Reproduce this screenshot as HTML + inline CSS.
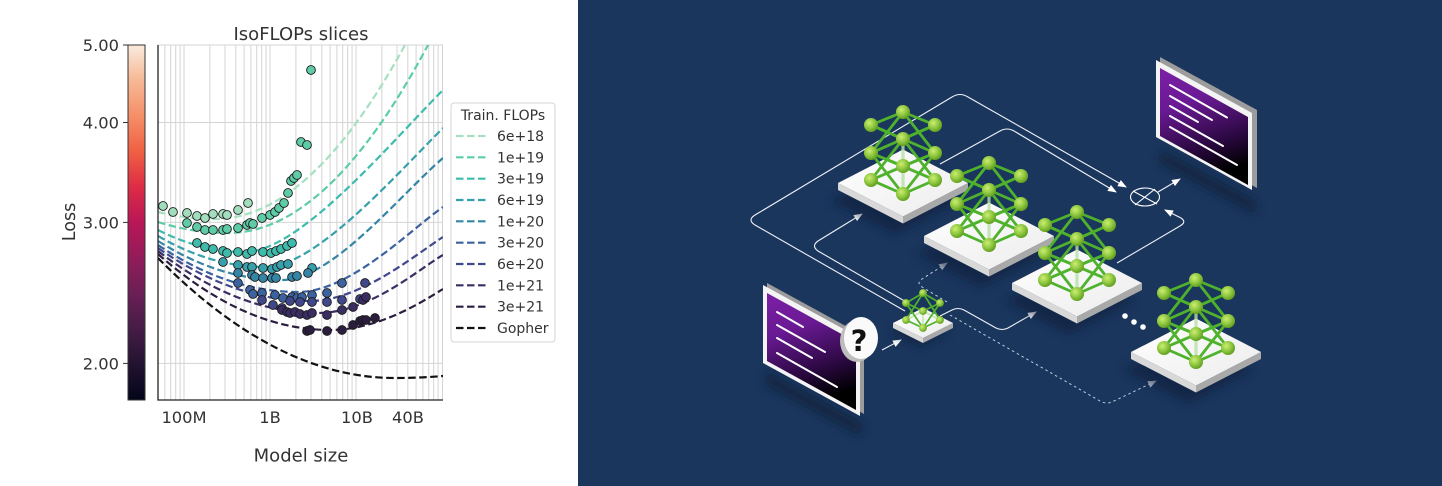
<!DOCTYPE html>
<html><head><meta charset="utf-8"><style>
html,body{margin:0;padding:0;background:#fff;}
svg{display:block;}
</style></head><body>
<svg width="1442" height="486" viewBox="0 0 1442 486" xmlns="http://www.w3.org/2000/svg">
<defs>
  <linearGradient id="rocket" x1="0" y1="1" x2="0" y2="0">
    <stop offset="0" stop-color="#03051a"/><stop offset="0.1" stop-color="#221331"/>
    <stop offset="0.2" stop-color="#451c47"/><stop offset="0.3" stop-color="#6a1f56"/>
    <stop offset="0.4" stop-color="#921c5b"/><stop offset="0.5" stop-color="#b91657"/>
    <stop offset="0.6" stop-color="#dd2c45"/><stop offset="0.7" stop-color="#f06043"/>
    <stop offset="0.8" stop-color="#f58f68"/><stop offset="0.9" stop-color="#f6b894"/>
    <stop offset="1" stop-color="#faebdd"/>
  </linearGradient>
  <clipPath id="pc"><rect x="158" y="45" width="285" height="355"/></clipPath>
  <marker id="ar" markerWidth="9" markerHeight="8" refX="8" refY="3.5" orient="auto" markerUnits="userSpaceOnUse"><path d="M0,0 L9,3.5 L0,7 Z" fill="#fff"/></marker>
  <marker id="ard" markerWidth="9" markerHeight="8" refX="8" refY="3.5" orient="auto" markerUnits="userSpaceOnUse"><path d="M0,0 L9,3.5 L0,7 Z" fill="#c3cddb"/></marker>
  <radialGradient id="ng" cx="0.38" cy="0.35" r="0.7">
    <stop offset="0" stop-color="#cdee72"/><stop offset="0.55" stop-color="#8dc63f"/><stop offset="1" stop-color="#5c9a1c"/>
  </radialGradient>
  <linearGradient id="topg" x1="0" y1="0" x2="1" y2="1"><stop offset="0" stop-color="#ffffff"/><stop offset="1" stop-color="#ececec"/></linearGradient>
  <linearGradient id="scr" x1="0" y1="0" x2="0.25" y2="1">
    <stop offset="0" stop-color="#7c1fa6"/><stop offset="0.35" stop-color="#6a1a94"/><stop offset="0.75" stop-color="#2a0840"/><stop offset="1" stop-color="#000"/>
  </linearGradient>
  <filter id="bl" x="-30%" y="-30%" width="160%" height="160%"><feGaussianBlur stdDeviation="5"/></filter>
  <g id="plat">
    <polygon points="-73,18 -8,-15.5 57,18 -8,51.5" fill="#0c1f3b" opacity="0.6" filter="url(#bl)"/>
    <polygon points="-65,0 0,33.5 0,40.5 -65,7" fill="#d8d8d8"/>
    <polygon points="0,33.5 65,0 65,7 0,40.5" fill="#a9a9a9"/>
    <polygon points="-65,0 0,-33.5 65,0 0,33.5" fill="url(#topg)"/>
  </g>
  <g id="platS">
    <polygon points="-34,9 -4,-6 26,9 -4,24" fill="#0c1f3b" opacity="0.6" filter="url(#bl)"/>
    <polygon points="-30,0 0,15 0,20 -30,5" fill="#d8d8d8"/>
    <polygon points="0,15 30,0 30,5 0,20" fill="#a9a9a9"/>
    <polygon points="-30,0 0,-15 30,0 0,15" fill="url(#topg)"/>
  </g>
  <g id="net">
    <g stroke="#b6e2a3" stroke-width="3.2" opacity="0.8" stroke-linecap="round">
      <line x1="0" y1="13" x2="-32" y2="27"/><line x1="0" y1="13" x2="32" y2="27"/>
      <line x1="0" y1="13" x2="0" y2="41"/><line x1="0" y1="-14" x2="0" y2="13"/>
    </g>
    <g stroke="#4fb22c" stroke-width="2.8" stroke-linecap="round">
      <line x1="0" y1="-41" x2="-32" y2="-28"/><line x1="0" y1="-41" x2="32" y2="-28"/>
      <line x1="-32" y1="-28" x2="0" y2="-14"/><line x1="32" y1="-28" x2="0" y2="-14"/>
      <line x1="0" y1="-41" x2="-32" y2="0"/><line x1="0" y1="-41" x2="32" y2="0"/>
      <line x1="-32" y1="-28" x2="32" y2="0"/><line x1="32" y1="-28" x2="-32" y2="0"/>
      <line x1="0" y1="-14" x2="-32" y2="27"/><line x1="0" y1="-14" x2="32" y2="27"/>
      <line x1="-32" y1="0" x2="0" y2="13"/><line x1="32" y1="0" x2="0" y2="13"/>
      <line x1="-32" y1="0" x2="0" y2="41"/><line x1="32" y1="0" x2="0" y2="41"/>
      <line x1="-32" y1="0" x2="32" y2="27"/><line x1="32" y1="0" x2="-32" y2="27"/>
      <line x1="-32" y1="27" x2="0" y2="41"/><line x1="32" y1="27" x2="0" y2="41"/>
    </g>
    <g fill="url(#ng)">
      <circle cx="0" cy="-41" r="7"/><circle cx="-32" cy="-28" r="7"/><circle cx="32" cy="-28" r="7"/>
      <circle cx="0" cy="-14" r="7"/><circle cx="-32" cy="0" r="7"/><circle cx="32" cy="0" r="7"/>
      <circle cx="0" cy="13" r="7"/><circle cx="-32" cy="27" r="7"/><circle cx="32" cy="27" r="7"/>
      <circle cx="0" cy="41" r="7"/>
    </g>
  </g>
  <g id="netS">
    <g stroke="#b6e2a3" stroke-width="1.6" opacity="0.8">
      <line x1="0" y1="0" x2="-17" y2="9"/><line x1="0" y1="0" x2="17" y2="9"/><line x1="0" y1="0" x2="0" y2="17"/>
    </g>
    <g stroke="#4fb22c" stroke-width="1.7">
      <line x1="0" y1="-18" x2="-17" y2="-8"/><line x1="0" y1="-18" x2="17" y2="-8"/>
      <line x1="-17" y1="-8" x2="0" y2="0"/><line x1="17" y1="-8" x2="0" y2="0"/>
      <line x1="0" y1="-18" x2="-17" y2="9"/><line x1="0" y1="-18" x2="17" y2="9"/>
      <line x1="-17" y1="-8" x2="0" y2="17"/><line x1="17" y1="-8" x2="0" y2="17"/>
      <line x1="-17" y1="9" x2="0" y2="17"/><line x1="17" y1="9" x2="0" y2="17"/>
    </g>
    <g fill="url(#ng)">
      <circle cx="0" cy="-18" r="3.9"/><circle cx="-17" cy="-8" r="3.9"/><circle cx="17" cy="-8" r="3.9"/>
      <circle cx="0" cy="0" r="3.9"/><circle cx="-17" cy="9" r="3.9"/><circle cx="17" cy="9" r="3.9"/>
      <circle cx="0" cy="17" r="3.9"/>
    </g>
  </g>
</defs>

<!-- LEFT PANEL -->
<rect x="0" y="0" width="578" height="486" fill="#fff"/>
<g stroke="#d4d4d4" stroke-width="1">
  <line x1="164.9" y1="45" x2="164.9" y2="400"/><line x1="170.7" y1="45" x2="170.7" y2="400"/>
  <line x1="175.7" y1="45" x2="175.7" y2="400"/><line x1="180.1" y1="45" x2="180.1" y2="400"/>
  <line x1="184" y1="45" x2="184" y2="400"/><line x1="209.9" y1="45" x2="209.9" y2="400"/>
  <line x1="225" y1="45" x2="225" y2="400"/><line x1="235.8" y1="45" x2="235.8" y2="400"/>
  <line x1="244.1" y1="45" x2="244.1" y2="400"/><line x1="250.9" y1="45" x2="250.9" y2="400"/>
  <line x1="256.7" y1="45" x2="256.7" y2="400"/><line x1="261.7" y1="45" x2="261.7" y2="400"/>
  <line x1="266.1" y1="45" x2="266.1" y2="400"/><line x1="270" y1="45" x2="270" y2="400"/>
  <line x1="295.9" y1="45" x2="295.9" y2="400"/><line x1="311" y1="45" x2="311" y2="400"/>
  <line x1="321.8" y1="45" x2="321.8" y2="400"/><line x1="330.1" y1="45" x2="330.1" y2="400"/>
  <line x1="336.9" y1="45" x2="336.9" y2="400"/><line x1="342.7" y1="45" x2="342.7" y2="400"/>
  <line x1="347.7" y1="45" x2="347.7" y2="400"/><line x1="352.1" y1="45" x2="352.1" y2="400"/>
  <line x1="356" y1="45" x2="356" y2="400"/><line x1="381.9" y1="45" x2="381.9" y2="400"/>
  <line x1="397" y1="45" x2="397" y2="400"/><line x1="407.8" y1="45" x2="407.8" y2="400"/>
  <line x1="416.1" y1="45" x2="416.1" y2="400"/><line x1="422.9" y1="45" x2="422.9" y2="400"/>
  <line x1="428.7" y1="45" x2="428.7" y2="400"/><line x1="433.7" y1="45" x2="433.7" y2="400"/>
  <line x1="438.1" y1="45" x2="438.1" y2="400"/><line x1="442.5" y1="45" x2="442.5" y2="400"/>
  <line x1="158" y1="45" x2="443" y2="45"/><line x1="158" y1="122.5" x2="443" y2="122.5"/>
  <line x1="158" y1="222.4" x2="443" y2="222.4"/><line x1="158" y1="363.4" x2="443" y2="363.4"/>
</g>
<g clip-path="url(#pc)" fill="none" stroke-width="2.2" stroke-dasharray="7.5 3.5">
  <path d="M158,212 Q186.5,219 215,219 Q310,219 405,45 L410,38" stroke="#a6e0c0"/>
  <path d="M158,222 Q193,233 228,233 Q328,233 428,45 L432,38" stroke="#5ccda7"/>
  <path d="M158,230 Q201.5,252 245,252 C300,252 393,140 443,90" stroke="#3dbcab"/>
  <path d="M158,236 Q211.5,267 265,267 C315,267 393,178 443,128" stroke="#37a1ab"/>
  <path d="M158,241 Q220,280 282,280 C332,280 400,195 443,158" stroke="#3585a6"/>
  <path d="M158,245 Q228,292 298,292 C350,292 410,230 443,207" stroke="#3c61a0"/>
  <path d="M158,248 Q234,301 310,301 C360,301 415,255 443,237" stroke="#42488c"/>
  <path d="M158,251 Q238,313 318,313 C370,313 420,268 443,255" stroke="#3b2d62"/>
  <path d="M158,254 Q244,330 330,330 C380,330 425,300 443,289" stroke="#2b1d3f"/>
  <path d="M158,258 Q276.5,378 395,378 Q419,378 443,376" stroke="#111"/>
</g>
<g stroke="#1a1a1a" stroke-width="0.9">
  <g fill="#a2debd">
    <circle cx="163" cy="206" r="4.4"/><circle cx="173" cy="212" r="4.4"/><circle cx="187" cy="213" r="4.4"/><circle cx="197" cy="216" r="4.4"/><circle cx="205" cy="218" r="4.4"/><circle cx="213" cy="214" r="4.4"/><circle cx="223" cy="214" r="4.4"/><circle cx="227" cy="215" r="4.4"/><circle cx="238" cy="210" r="4.4"/><circle cx="248" cy="203" r="4.4"/>
  </g>
  <g fill="#5ecca6">
    <circle cx="187" cy="223" r="4.4"/><circle cx="197" cy="227" r="4.4"/><circle cx="205" cy="230" r="4.4"/><circle cx="213" cy="230" r="4.4"/><circle cx="223" cy="230" r="4.4"/><circle cx="227" cy="229" r="4.4"/><circle cx="238" cy="228" r="4.4"/><circle cx="247" cy="225" r="4.4"/><circle cx="250" cy="223" r="4.4"/><circle cx="253" cy="224" r="4.4"/><circle cx="262" cy="218" r="4.4"/><circle cx="270" cy="215" r="4.4"/><circle cx="275" cy="212" r="4.4"/><circle cx="279" cy="208" r="4.4"/><circle cx="284" cy="203" r="4.4"/><circle cx="288" cy="193" r="4.4"/><circle cx="291" cy="181" r="4.4"/><circle cx="294" cy="178" r="4.4"/><circle cx="297" cy="175" r="4.4"/><circle cx="301" cy="142" r="4.4"/><circle cx="307" cy="145" r="4.4"/><circle cx="311" cy="70" r="4.4"/>
  </g>
  <g fill="#3fbbab">
    <circle cx="197" cy="243" r="4.4"/><circle cx="205" cy="247" r="4.4"/><circle cx="213" cy="249" r="4.4"/><circle cx="223" cy="251" r="4.4"/><circle cx="227" cy="253" r="4.4"/><circle cx="238" cy="252" r="4.4"/><circle cx="247" cy="254" r="4.4"/><circle cx="252" cy="251" r="4.4"/><circle cx="263" cy="252" r="4.4"/><circle cx="271" cy="253" r="4.4"/><circle cx="276" cy="251" r="4.4"/><circle cx="281" cy="249" r="4.4"/><circle cx="287" cy="246" r="4.4"/><circle cx="292" cy="243" r="4.4"/>
  </g>
  <g fill="#38a0aa">
    <circle cx="223" cy="262" r="4.4"/><circle cx="238" cy="265" r="4.4"/><circle cx="247" cy="267" r="4.4"/><circle cx="252" cy="267" r="4.4"/><circle cx="263" cy="268" r="4.4"/><circle cx="272" cy="269" r="4.4"/><circle cx="277" cy="267" r="4.4"/><circle cx="281" cy="265" r="4.4"/><circle cx="288" cy="264" r="4.4"/><circle cx="312" cy="268" r="4.4"/>
  </g>
  <g fill="#3585a6">
    <circle cx="238" cy="273" r="4.4"/><circle cx="252" cy="275" r="4.4"/><circle cx="255" cy="277" r="4.4"/><circle cx="263" cy="278" r="4.4"/><circle cx="272" cy="278" r="4.4"/><circle cx="276" cy="278" r="4.4"/><circle cx="292" cy="277" r="4.4"/><circle cx="297" cy="276" r="4.4"/><circle cx="308" cy="273" r="4.4"/>
  </g>
  <g fill="#3c62a0">
    <circle cx="238" cy="283" r="4.4"/><circle cx="250" cy="290" r="4.4"/><circle cx="253" cy="294" r="4.4"/><circle cx="262" cy="293" r="4.4"/><circle cx="275" cy="295" r="4.4"/><circle cx="283" cy="298" r="4.4"/><circle cx="292" cy="297" r="4.4"/><circle cx="297" cy="298" r="4.4"/><circle cx="302" cy="297" r="4.4"/><circle cx="312" cy="295" r="4.4"/><circle cx="327" cy="293" r="4.4"/><circle cx="342" cy="283" r="4.4"/>
  </g>
  <g fill="#41478b">
    <circle cx="262" cy="300" r="4.4"/><circle cx="273" cy="305" r="4.4"/><circle cx="282" cy="308" r="4.4"/><circle cx="290" cy="301" r="4.4"/><circle cx="300" cy="302" r="4.4"/><circle cx="312" cy="302" r="4.4"/><circle cx="327" cy="302" r="4.4"/><circle cx="342" cy="300" r="4.4"/><circle cx="360" cy="299" r="4.4"/><circle cx="365" cy="283" r="4.4"/>
  </g>
  <g fill="#3a2d62">
    <circle cx="282" cy="310" r="4.4"/><circle cx="287" cy="312" r="4.4"/><circle cx="290" cy="313" r="4.4"/><circle cx="295" cy="312" r="4.4"/><circle cx="300" cy="314" r="4.4"/><circle cx="307" cy="315" r="4.4"/><circle cx="312" cy="313" r="4.4"/><circle cx="327" cy="315" r="4.4"/><circle cx="342" cy="310" r="4.4"/><circle cx="353" cy="307" r="4.4"/><circle cx="363" cy="300" r="4.4"/><circle cx="366" cy="297" r="4.4"/>
  </g>
  <g fill="#2b1d3e">
    <circle cx="307" cy="331" r="4.4"/><circle cx="310" cy="330" r="4.4"/><circle cx="327" cy="331" r="4.4"/><circle cx="342" cy="330" r="4.4"/><circle cx="353" cy="325" r="4.4"/><circle cx="360" cy="321" r="4.4"/><circle cx="363" cy="320" r="4.4"/><circle cx="366" cy="320" r="4.4"/><circle cx="375" cy="318" r="4.4"/>
  </g>
</g>
<line x1="158" y1="45" x2="158" y2="400.5" stroke="#222" stroke-width="1.3"/>
<line x1="157.5" y1="400" x2="443" y2="400" stroke="#222" stroke-width="1.3"/>
<rect x="128" y="45" width="17" height="355" fill="url(#rocket)" stroke="#333" stroke-width="1"/>
<g stroke="#333" stroke-width="1">
  <line x1="123" y1="45" x2="128" y2="45"/><line x1="123" y1="122.5" x2="128" y2="122.5"/>
  <line x1="123" y1="222.4" x2="128" y2="222.4"/><line x1="123" y1="363.4" x2="128" y2="363.4"/>
</g>
<g font-family="DejaVu Sans, Liberation Sans, sans-serif" fill="#333" font-size="16.3">
  <text x="119" y="51" text-anchor="end">5.00</text>
  <text x="119" y="128.5" text-anchor="end">4.00</text>
  <text x="119" y="228.4" text-anchor="end">3.00</text>
  <text x="119" y="369.4" text-anchor="end">2.00</text>
  <text x="184" y="423" text-anchor="middle">100M</text>
  <text x="270" y="423" text-anchor="middle">1B</text>
  <text x="357" y="423" text-anchor="middle">10B</text>
  <text x="408" y="423" text-anchor="middle">40B</text>
  <text x="301" y="40" text-anchor="middle" font-size="18">IsoFLOPs slices</text>
  <text x="301" y="461.5" text-anchor="middle" font-size="18">Model size</text>
  <text transform="translate(75,222) rotate(-90)" text-anchor="middle" font-size="17.5">Loss</text>
</g>
<rect x="451" y="103" width="104" height="239" rx="3" fill="#fff" stroke="#d6d6d6" stroke-width="1"/>
<g font-family="DejaVu Sans, Liberation Sans, sans-serif" fill="#333" font-size="14">
  <text x="503" y="120" text-anchor="middle">Train. FLOPs</text>
  <text x="497" y="141">6e+18</text><text x="497" y="162.3">1e+19</text><text x="497" y="183.7">3e+19</text>
  <text x="497" y="205">6e+19</text><text x="497" y="226.3">1e+20</text><text x="497" y="247.7">3e+20</text>
  <text x="497" y="269">6e+20</text><text x="497" y="290.3">1e+21</text><text x="497" y="311.7">3e+21</text>
  <text x="497" y="333">Gopher</text>
</g>
<g stroke-width="2.2" stroke-dasharray="7.5 3.5">
  <line x1="456" y1="136" x2="486" y2="136" stroke="#a6e0c0"/>
  <line x1="456" y1="157.3" x2="486" y2="157.3" stroke="#5ccda7"/>
  <line x1="456" y1="178.7" x2="486" y2="178.7" stroke="#3dbcab"/>
  <line x1="456" y1="200" x2="486" y2="200" stroke="#37a1ab"/>
  <line x1="456" y1="221.3" x2="486" y2="221.3" stroke="#3585a6"/>
  <line x1="456" y1="242.7" x2="486" y2="242.7" stroke="#3c61a0"/>
  <line x1="456" y1="264" x2="486" y2="264" stroke="#42488c"/>
  <line x1="456" y1="285.3" x2="486" y2="285.3" stroke="#3b2d62"/>
  <line x1="456" y1="306.7" x2="486" y2="306.7" stroke="#2b1d3f"/>
  <line x1="456" y1="328" x2="486" y2="328" stroke="#111"/>
</g>

<!-- RIGHT PANEL -->
<rect x="578" y="0" width="864" height="486" fill="#1b365d"/>
<g fill="none" stroke="#eef2f7" stroke-width="1.1">
  <path d="M905,311 L755,225 Q747,220 755,215 L952,97 Q960,92 968,97 L1126,187" marker-end="url(#ar)"/>
  <path d="M908,303 L818,251 Q811,246 818,241 L862,214" marker-end="url(#ar)"/>
  <path d="M940,164 L1000,131 Q1007,127 1014,131 L1116,192" marker-end="url(#ar)"/>
  <path d="M1117,263 L1180,226 Q1187,222 1181,218 L1165,210" marker-end="url(#ar)"/>
  <path d="M940,316 L952,310 Q958,307 964,310 L996,328 Q1002,331 1008,328 L1036,312" marker-end="url(#ar)"/>
  <path d="M1158,192 L1180,179" marker-end="url(#ar)"/>
  <path d="M882,350 L901,340" marker-end="url(#ar)"/>
</g>
<g fill="none" stroke="#c3cddb" stroke-width="1" stroke-dasharray="2.5 3">
  <path d="M947,302 L922,287 Q916,283 922,279 L947,263" marker-end="url(#ard)"/>
  <path d="M950,315 L1100,401 Q1107,405 1114,401 L1156,381" marker-end="url(#ard)"/>
</g>
<polygon points="1160,150 1256,202 1256,214 1160,162" fill="#0a1a33" opacity="0.7" filter="url(#bl)"/>

<use href="#plat" x="903" y="183"/>
<use href="#net" x="903" y="153"/>
<use href="#plat" x="989" y="236"/>
<use href="#net" x="989" y="204"/>
<use href="#plat" x="1077" y="283"/>
<use href="#net" x="1077" y="253"/>
<use href="#plat" x="1196" y="352"/>
<use href="#net" x="1196" y="321"/>
<use href="#platS" x="923" y="323"/>
<use href="#netS" x="923" y="311"/>

<g fill="none" stroke="#fff" stroke-width="1.1">
  <ellipse cx="1145" cy="197" rx="14.5" ry="9"/>
  <line x1="1133" y1="191" x2="1157" y2="204"/>
  <line x1="1135" y1="205" x2="1155" y2="189"/>
</g>
<g fill="#fff"><circle cx="1125" cy="316" r="2.8"/><circle cx="1134" cy="322" r="2.8"/><circle cx="1143" cy="327" r="2.8"/></g>

<polygon points="1160,57 1257,110 1257,188 1160,135" fill="#9c9c9c"/>
<polygon points="1156,60 1252,113 1252,190 1156,137" fill="#f4f4f4"/>
<polygon points="1160,68 1248,117 1248,185 1160,136" fill="url(#scr)"/>
<g stroke="#fff" stroke-width="2" stroke-linecap="round">
  <line x1="1170" y1="85" x2="1227" y2="117.5"/>
  <line x1="1170" y1="96" x2="1212" y2="120"/>
  <line x1="1170" y1="106" x2="1198" y2="122"/>
  <line x1="1170" y1="116" x2="1223" y2="146"/>
  <line x1="1170" y1="127" x2="1237" y2="165"/>
</g>

<polygon points="766,372 862,424 862,436 766,384" fill="#0a1a33" opacity="0.7" filter="url(#bl)"/>
<polygon points="767,283 864,336 864,414 767,361" fill="#9c9c9c"/>
<polygon points="763,285 860,338 860,416 763,363" fill="#f4f4f4"/>
<polygon points="767,293 856,342 856,410 767,361" fill="url(#scr)"/>
<g stroke="#fff" stroke-width="2" stroke-linecap="round">
  <line x1="777" y1="312" x2="803" y2="327"/>
  <line x1="777" y1="325" x2="825" y2="352"/>
  <line x1="777" y1="338" x2="812" y2="358"/>
  <line x1="777" y1="353" x2="837" y2="387"/>
</g>
<ellipse cx="857" cy="341" rx="17" ry="21" fill="#bdbdbd"/>
<ellipse cx="861" cy="338" rx="17" ry="21" fill="#fafafa"/>
<text x="859" y="351" text-anchor="middle" font-family="DejaVu Sans, Liberation Sans, sans-serif" font-weight="bold" font-size="29" fill="#111">?</text>
</svg>
</body></html>
